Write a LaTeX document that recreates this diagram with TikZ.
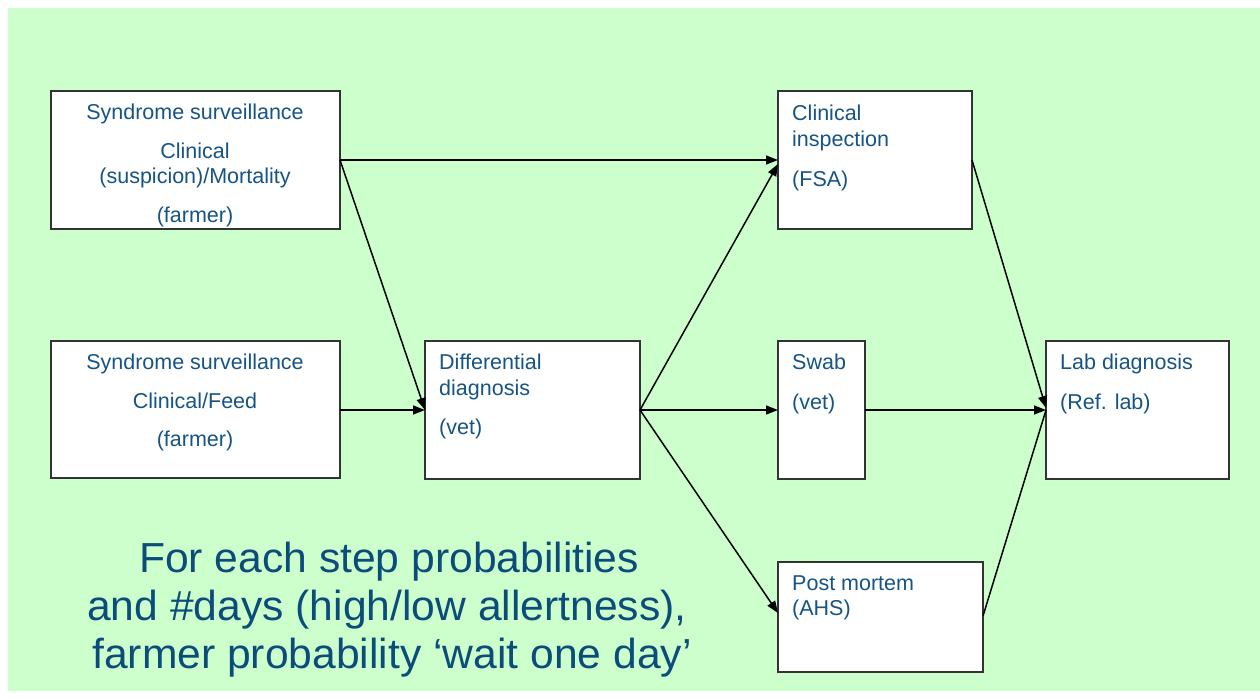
\documentclass[tikz,border=0pt]{standalone}
\usepackage{fontspec}
\setmainfont{Liberation Sans}
\usetikzlibrary{arrows.meta}
\definecolor{bggreen}{HTML}{CCFFCC}
\definecolor{txtblue}{RGB}{22,84,134}
\definecolor{bigblue}{RGB}{12,76,122}
\tikzset{
  box/.style={draw=black!80, line width=1.4pt, fill=white},
  lbl/.style={inner sep=0pt, text=txtblue, font=\fontsize{21.5}{25}\selectfont},
  big/.style={inner sep=0pt, text=bigblue, font=\fontsize{42}{48}\selectfont},
  conn/.style={line width=1.5pt, -{Triangle[length=12pt,width=9pt]}},
  plain/.style={line width=1.5pt}
}
\begin{document}
\begin{tikzpicture}[x=1pt,y=-1pt]
\useasboundingbox (0,0) rectangle (1260,697);
\fill[white] (0,0) rectangle (1260,697);
\fill[bggreen] (8,8) rectangle (1260,691);

% boxes
\draw[box] (51,91) rectangle (340,229);
\draw[box] (51,341) rectangle (340,478);
\draw[box] (425,341) rectangle (640,479);
\draw[box] (778,91) rectangle (972,229);
\draw[box] (778,341) rectangle (865,479);
\draw[box] (778,562) rectangle (983,672);
\draw[box] (1046,341) rectangle (1229,479);

% connector end points
\coordinate (aR) at (340,160);
\coordinate (bR) at (340,410);
\coordinate (cL) at (425,410);
\coordinate (cR) at (640,410);
\coordinate (dL) at (778,160);
\coordinate (dL2) at (778,164);
\coordinate (dR) at (972,160);
\coordinate (eL) at (778,410);
\coordinate (eR) at (865,410);
\coordinate (fL) at (778,613);
\coordinate (fR) at (983,616);
\coordinate (gL) at (1046,410);
\coordinate (gL2) at (1046,408);

\draw[conn] (aR) -- (dL);
\draw[conn] (aR) -- (cL);
\draw[conn] (bR) -- (cL);
\draw[conn] (cR) -- (dL2);
\draw[conn] (cR) -- (eL);
\draw[conn] (cR) -- (fL);
\draw[conn] (dR) -- (gL2);
\draw[conn] (eR) -- (gL);
\draw[plain] (fR) -- (gL);

% box texts
\node[lbl, anchor=base] (a1) at (195,119) {Syndrome surveillance};
\node[lbl, anchor=base] (a2) at (195,158) {Clinical};
\node[lbl, anchor=base] (a3) at (195,183) {(suspicion)/Mortality};
\node[lbl, anchor=base] (a4) at (195,222) {(farmer)};

\node[lbl, anchor=base] (b1) at (195,369) {Syndrome surveillance};
\node[lbl, anchor=base] (b2) at (195,408) {Clinical/Feed};
\node[lbl, anchor=base] (b3) at (195,446) {(farmer)};

\node[lbl, anchor=base west] (c1) at (439,369) {Differential};
\node[lbl, anchor=base west] (c2) at (439,395) {diagnosis};
\node[lbl, anchor=base west] (c3) at (439,434) {(vet)};

\node[lbl, anchor=base west] (d1) at (792,120) {Clinical};
\node[lbl, anchor=base west] (d2) at (792,146) {inspection};
\node[lbl, anchor=base west] (d3) at (792,186) {(FSA)};

\node[lbl, anchor=base west] (e1) at (792,369) {Swab};
\node[lbl, anchor=base west] (e2) at (792,409) {(vet)};

\node[lbl, anchor=base west] (f1) at (792,590) {Post mortem};
\node[lbl, anchor=base west] (f2) at (792,615) {(AHS)};

\node[lbl, anchor=base west] (g1) at (1060,369) {Lab diagnosis};
\node[lbl, anchor=base west] (g2) at (1060,409) {(Ref. lab)};

% bottom text
\node[big, anchor=base] (t1) at (389,572) {\scalebox{1.015}[1]{For each step probabilities}};
\node[big, anchor=base] (t2) at (387,620) {\scalebox{1.015}[1]{and \#days (high/low allertness),}};
\node[big, anchor=base] (t3) at (392,668) {\scalebox{1.015}[1]{farmer probability ‘wait one day’}};
\end{tikzpicture}
\end{document}
